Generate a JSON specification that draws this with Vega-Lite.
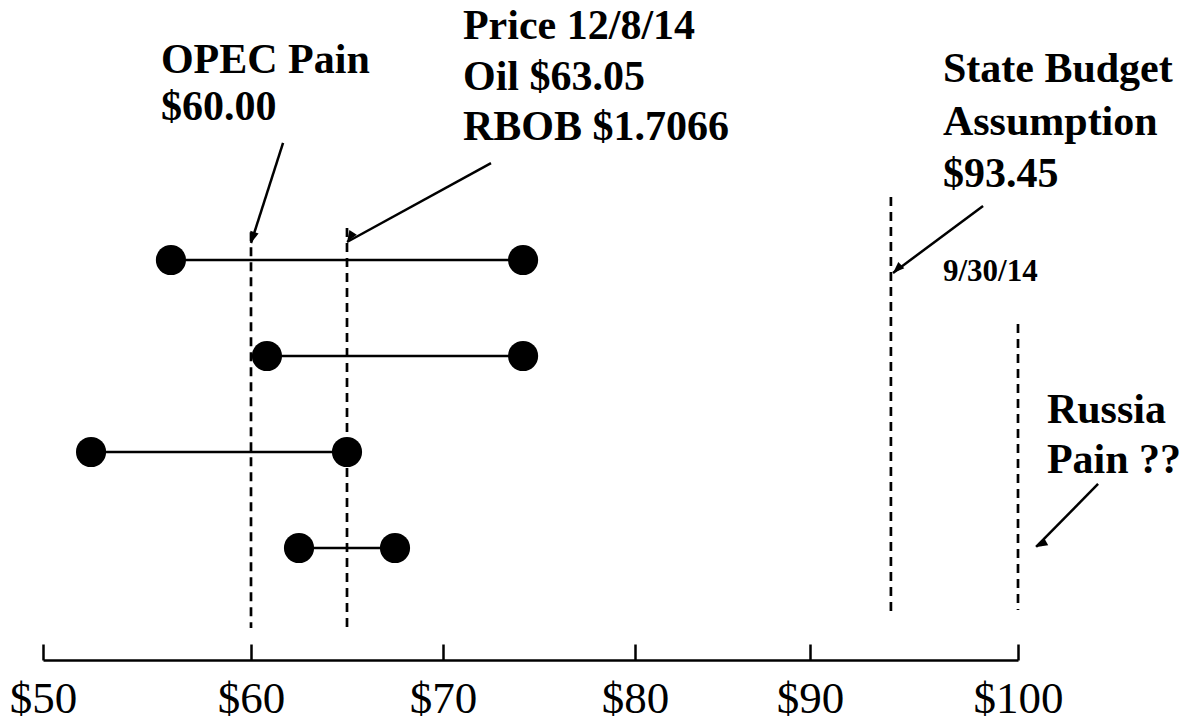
{
  "$schema": "https://vega.github.io/schema/vega-lite/v6.json",
  "width": 1188,
  "height": 660,
  "autosize": {"type": "none"},
  "padding": {"left": 0, "top": 0, "right": 0, "bottom": 62},
  "background": "white",
  "config": {"view": {"stroke": null}},
  "datasets": {
    "dots": [
      {"row": "A", "x": 56.15, "y": 4},
      {"row": "A", "x": 74.17, "y": 4},
      {"row": "B", "x": 60.83, "y": 3},
      {"row": "B", "x": 74.17, "y": 3},
      {"row": "C", "x": 52.31, "y": 2},
      {"row": "C", "x": 65.0, "y": 2},
      {"row": "D", "x": 62.5, "y": 1},
      {"row": "D", "x": 67.5, "y": 1}
    ],
    "refs": [
      {"name": "OPEC Pain", "x": 60, "y": 4.29, "y2": 0.167},
      {"name": "Price 12/8/14", "x": 65, "y": 4.333, "y2": 0.167},
      {"name": "State Budget", "x": 93.89, "y": 4.656, "y2": 0.344},
      {"name": "Russia Pain", "x": 100, "y": 3.333, "y2": 0.354}
    ],
    "arrows": [
      {"name": "OPEC", "x": 60.0, "y": 4.177, "x2": 61.67, "y2": 5.219},
      {"name": "Price", "x": 65.0, "y": 4.1875, "x2": 72.5, "y2": 5.01},
      {"name": "State", "x": 93.99, "y": 3.865, "x2": 98.32, "y2": 4.5625},
      {"name": "Russia", "x": 100.87, "y": 1.0104, "x2": 103.85, "y2": 1.667}
    ],
    "labels": [
      {"text": "OPEC Pain", "x": 55.67, "y": 5.948},
      {"text": "$60.00", "x": 55.67, "y": 5.458},
      {"text": "Price 12/8/14", "x": 71.04, "y": 6.302},
      {"text": "Oil $63.05", "x": 71.04, "y": 5.771},
      {"text": "RBOB $1.7066", "x": 71.04, "y": 5.25},
      {"text": "State Budget", "x": 96.39, "y": 5.854},
      {"text": "Assumption", "x": 96.39, "y": 5.302},
      {"text": "$93.45", "x": 96.39, "y": 4.76},
      {"text": "Russia", "x": 101.39, "y": 2.302},
      {"text": "Pain ??", "x": 101.39, "y": 1.781}
    ],
    "small": [
      {"text": "9/30/14", "x": 96.39, "y": 3.781}
    ]
  },
  "encoding": {
    "x": {
      "field": "x",
      "type": "quantitative",
      "scale": {"domain": [50, 60, 70, 80, 90, 100], "range": [43, 251, 443, 635, 810, 1018], "nice": false, "zero": false},
      "axis": {
        "values": [50, 60, 70, 80, 90, 100],
        "labelExpr": "'$' + datum.value",
        "title": null,
        "grid": false,
        "domainColor": "black",
        "domainWidth": 2.5,
        "tickColor": "black",
        "tickWidth": 2.5,
        "tickSize": -16,
        "labelFont": "Liberation Serif",
        "labelFontSize": 45,
        "labelColor": "black",
        "labelBaseline": "alphabetic",
        "labelPadding": 68,
        "labelFlush": false,
        "labelOverlap": false
      }
    },
    "y": {
      "field": "y",
      "type": "quantitative",
      "scale": {"domain": [-0.1667, 6.7083], "nice": false, "zero": false},
      "axis": null
    }
  },
  "layer": [
    {
      "data": {"name": "refs"},
      "mark": {"type": "rule", "color": "black", "strokeWidth": 2.7, "strokeDash": [9, 6]},
      "encoding": {"y2": {"field": "y2"}}
    },
    {
      "data": {"name": "dots"},
      "mark": {"type": "line", "color": "black", "strokeWidth": 2.5},
      "encoding": {"detail": {"field": "row", "type": "nominal"}}
    },
    {
      "data": {"name": "dots"},
      "mark": {"type": "point", "shape": "circle", "filled": true, "color": "black", "opacity": 1, "size": 908}
    },
    {
      "data": {"name": "arrows"},
      "mark": {"type": "rule", "color": "black", "strokeWidth": 2.5},
      "encoding": {"x2": {"field": "x2"}, "y2": {"field": "y2"}}
    },
    {
      "data": {"name": "arrows"},
      "mark": {"type": "point", "shape": "M0,0L-0.38,1L0.38,1Z", "filled": true, "color": "black", "opacity": 1, "size": 520},
      "encoding": {
        "angle": {
          "field": "name",
          "type": "nominal",
          "scale": {"domain": ["OPEC", "Price", "State", "Russia"], "range": [197.7, 241.3, 233.3, 224.5]},
          "legend": null
        }
      }
    },
    {
      "data": {"name": "labels"},
      "mark": {"type": "text", "align": "left", "baseline": "alphabetic", "font": "Liberation Serif", "fontWeight": "bold", "fontSize": 42, "color": "black"},
      "encoding": {"text": {"field": "text"}}
    },
    {
      "data": {"name": "small"},
      "mark": {"type": "text", "align": "left", "baseline": "alphabetic", "font": "Liberation Serif", "fontWeight": "bold", "fontSize": 31, "color": "black"},
      "encoding": {"text": {"field": "text"}}
    }
  ]
}
